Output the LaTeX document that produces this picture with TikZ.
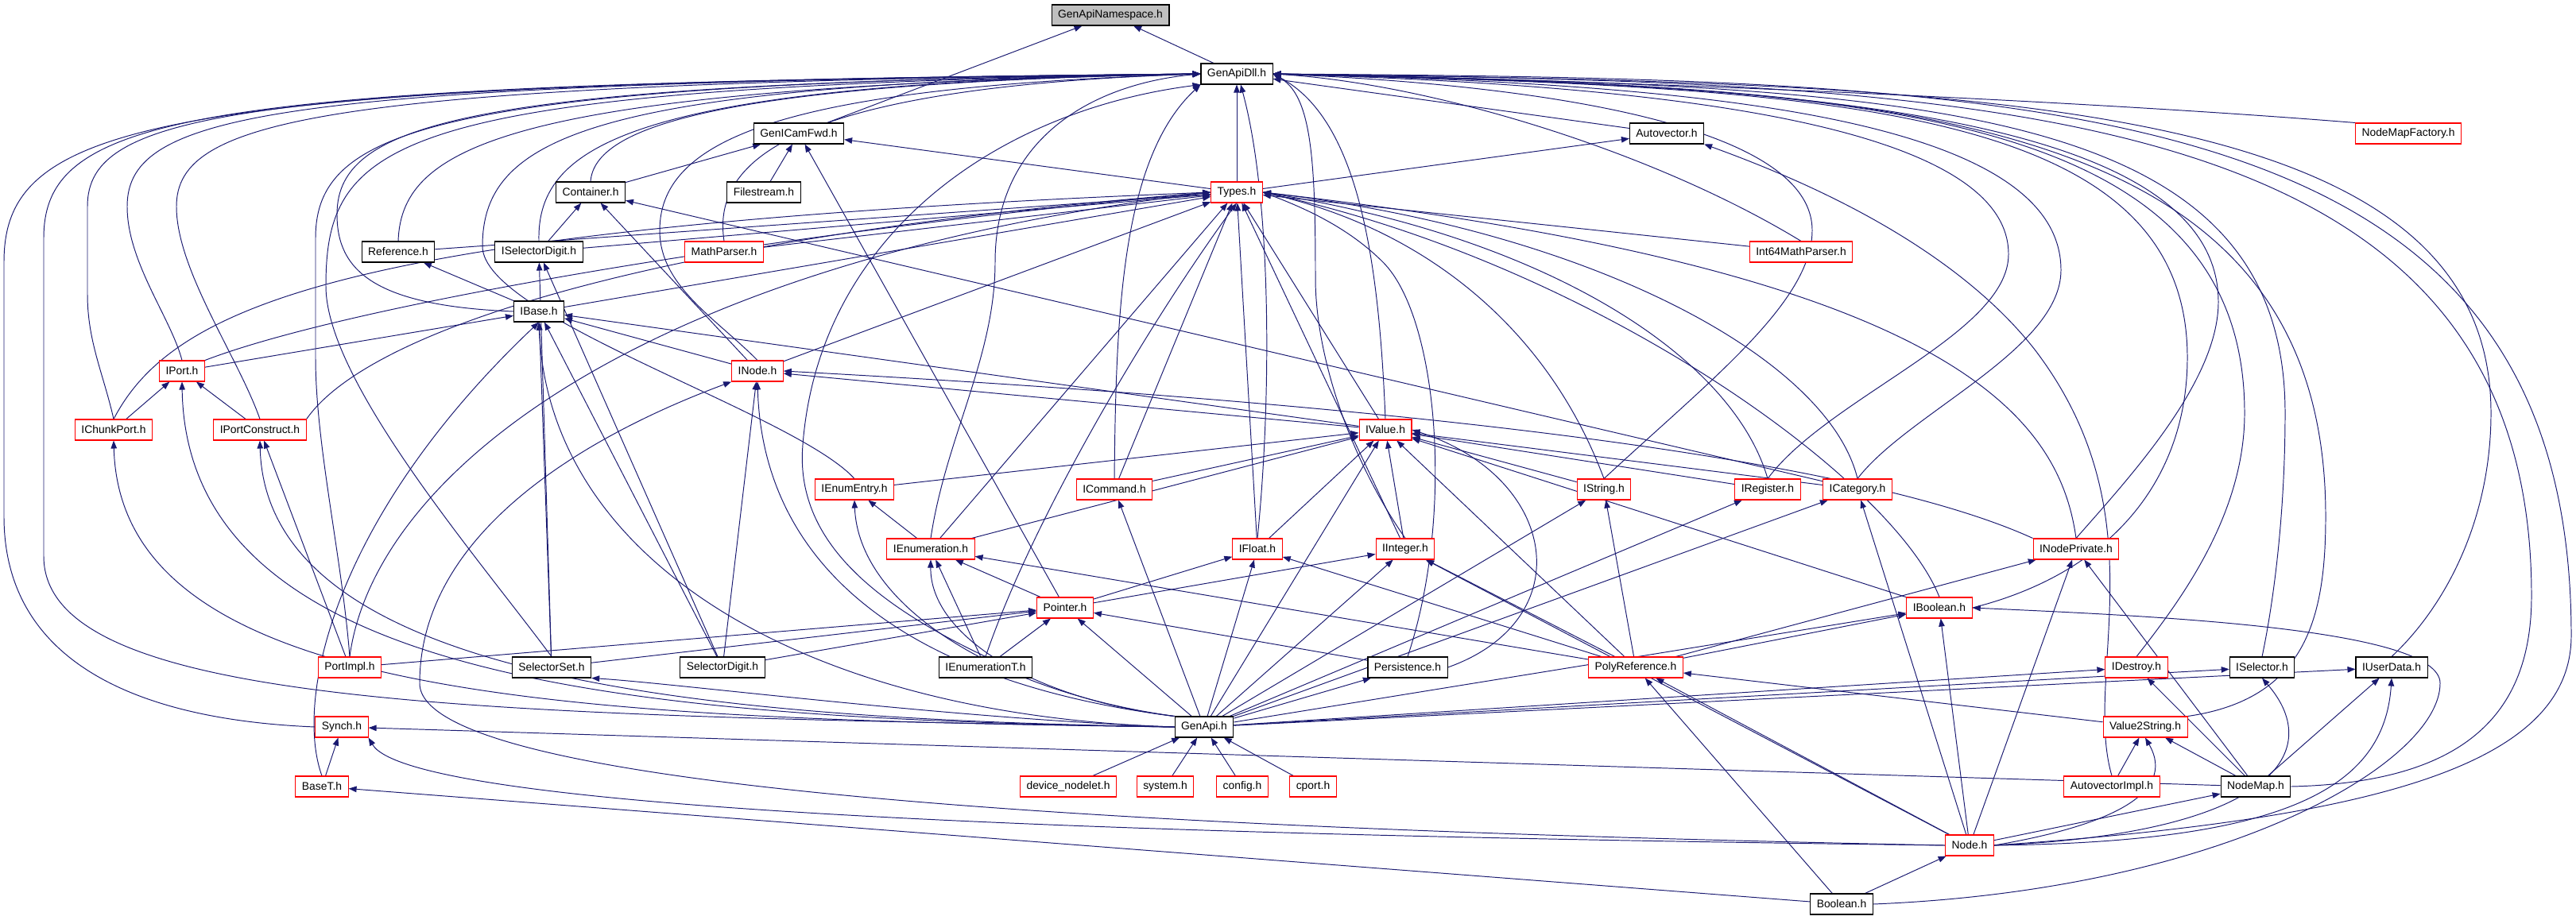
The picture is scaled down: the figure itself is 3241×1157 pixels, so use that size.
\documentclass[tikz,border=0pt]{standalone}
\usepackage{fontspec}
\setmainfont{Liberation Sans}
\usetikzlibrary{arrows.meta}
\definecolor{edgeblue}{RGB}{25,25,112}
\definecolor{nspgrey}{HTML}{BFBFBF}
\pgfdeclarelayer{background}
\pgfsetlayers{background,main}
\tikzset{file/.style = {draw, rectangle, line width = 0.6pt, fill = white, font = \fontsize{7.9}{9}\selectfont,
                        minimum height = 0.52cm, inner xsep = 0.16cm, inner ysep = 0}}
\tikzset{redfile/.style = {file, draw = red}}
\tikzset{inc/.style = {draw = edgeblue, line width = 0.55pt, -{Triangle[length = 0.2cm, width = 0.15cm]}}}

\begin{document}
\begin{tikzpicture}[x = 0.02cm, y = -0.02cm]
    \useasboundingbox (0,0) rectangle (3241,1157);
    \node[file, fill = nspgrey] (nsp) at (1397,19) {GenApiNamespace.h};
    \node[file] (dll) at (1556,93) {GenApiDll.h};
    \node[file] (fwd) at (1005,168) {GenICamFwd.h};
    \node[file] (autovec) at (2097,168) {Autovector.h};
    \node[redfile] (nmfact) at (3030,168) {NodeMapFactory.h};
    \node[file] (container) at (743,242) {Container.h};
    \node[file] (filestream) at (961,242) {Filestream.h};
    \node[redfile] (types) at (1556,242) {Types.h};
    \node[file] (reference) at (501,317) {Reference.h};
    \node[file] (iseldigit) at (678,317) {ISelectorDigit.h};
    \node[redfile] (mathparser) at (911,317) {MathParser.h};
    \node[redfile] (int64mp) at (2266,317) {Int64MathParser.h};
    \node[file] (ibase) at (678,392) {IBase.h};
    \node[redfile] (iport) at (229,467) {IPort.h};
    \node[redfile] (inode) at (953,467) {INode.h};
    \node[redfile] (ichunk) at (143,541) {IChunkPort.h};
    \node[redfile] (iportc) at (327,541) {IPortConstruct.h};
    \node[redfile] (ivalue) at (1743,541) {IValue.h};
    \node[redfile] (ienumentry) at (1075,616) {IEnumEntry.h};
    \node[redfile] (icommand) at (1402,616) {ICommand.h};
    \node[redfile] (istring) at (2018,616) {IString.h};
    \node[redfile] (iregister) at (2224,616) {IRegister.h};
    \node[redfile] (icategory) at (2337,616) {ICategory.h};
    \node[redfile] (ienum) at (1171,691) {IEnumeration.h};
    \node[redfile] (ifloat) at (1582,691) {IFloat.h};
    \node[redfile] (iinteger) at (1768,691) {IInteger.h};
    \node[redfile] (inodepriv) at (2612,691) {INodePrivate.h};
    \node[redfile] (pointer) at (1340,765) {Pointer.h};
    \node[redfile] (iboolean) at (2440,765) {IBoolean.h};
    \node[redfile] (portimpl) at (440,840) {PortImpl.h};
    \node[file] (selset) at (694,840) {SelectorSet.h};
    \node[file] (seldigit) at (909,840) {SelectorDigit.h};
    \node[file] (ienumt) at (1240,840) {IEnumerationT.h};
    \node[file] (persist) at (1771,840) {Persistence.h};
    \node[redfile] (polyref) at (2058,840) {PolyReference.h};
    \node[redfile] (idestroy) at (2688,840) {IDestroy.h};
    \node[file] (iselector) at (2846,840) {ISelector.h};
    \node[file] (iuserdata) at (3009,840) {IUserData.h};
    \node[file] (genapi) at (1515,915) {GenApi.h};
    \node[redfile] (synch) at (430,915) {Synch.h};
    \node[redfile] (v2s) at (2699,915) {Value2String.h};
    \node[redfile] (baset) at (405,990) {BaseT.h};
    \node[redfile] (devnode) at (1344,990) {device\_nodelet.h};
    \node[redfile] (system) at (1466,990) {system.h};
    \node[redfile] (config) at (1563,990) {config.h};
    \node[redfile] (cport) at (1652,990) {cport.h};
    \node[redfile] (avimpl) at (2657,990) {AutovectorImpl.h};
    \node[file] (nodemap) at (2838,990) {NodeMap.h};
    \node[redfile] (nodeh) at (2478,1064) {Node.h};
    \node[file] (boolean) at (2317,1138) {Boolean.h};

    \begin{pgfonlayer}{background}
    \draw[inc] (dll) -- (nsp);
    \draw[inc] (fwd) -- (nsp);
    \draw[inc] (autovec) -- (dll);
    \draw[inc] (nmfact.north west) .. controls (2600,125) and (2000,100) .. (dll.east);
    \draw[inc] (container.north) .. controls (748,160) and (900,105) .. (dll.west);
    \draw[inc] (container) -- (fwd);
    \draw[inc] (filestream) -- (fwd);
    \draw[inc] (types) -- (dll);
    \draw[inc] (types) -- (fwd);
    \draw[inc] (types) -- (autovec);
    \draw[inc] (reference.north) .. controls (505,180) and (650,110) .. (dll.west);
    \draw[inc] (reference) -- (types);
    \draw[inc] (iseldigit.north) .. controls (675,180) and (800,105) .. (dll.west);
    \draw[inc] (iseldigit) -- (container);
    \draw[inc] (iseldigit) -- (types);
    \draw[inc] (mathparser.north) .. controls (895,200) and (1000,110) .. (dll.west);
    \draw[inc] (mathparser) -- (types);
    \draw[inc] (int64mp.north) .. controls (2080,190) and (1800,105) .. (dll.east);
    \draw[inc] (int64mp) -- (types);
    \draw[inc] (ibase.west) .. controls (470,385) and (424,340) .. (424,270) .. controls (424,150) and (600,105) .. (dll.west);
    \draw[inc] (ibase) -- (reference);
    \draw[inc] (ibase) -- (types);
    \draw[inc] (iport.north) .. controls (215,400) and (160,330) .. (160,260) .. controls (160,140) and (350,105) .. (dll.west);
    \draw[inc] (iport.north east) .. controls (450,380) and (1000,290) .. (types.west);
    \draw[inc] (iport) -- (ibase);
    \draw[inc] (ichunk.north) .. controls (130,470) and (110,430) .. (110,370) -- (110,260) .. controls (110,140) and (300,105) .. (dll.west);
    \draw[inc] (ichunk.north) .. controls (220,380) and (450,285) .. (types.west);
    \draw[inc] (ichunk) -- (iport);
    \draw[inc] (iportc.north) .. controls (300,450) and (222,340) .. (222,260) .. controls (222,150) and (400,105) .. (dll.west);
    \draw[inc] (iportc.north east) .. controls (460,420) and (800,300) .. (types.west);
    \draw[inc] (iportc) -- (iport);
    \draw[inc] (inode.north) .. controls (900,400) and (830,360) .. (830,290) .. controls (830,170) and (1000,110) .. (dll.west);
    \draw[inc] (inode) -- (types);
    \draw[inc] (inode) -- (ibase);
    \draw[inc] (inode) -- (container);
    \draw[inc] (ivalue.north) .. controls (1735,330) and (1710,150) .. (dll.east);
    \draw[inc] (ivalue) -- (types);
    \draw[inc] (ivalue) -- (ibase);
    \draw[inc] (ivalue) -- (inode);
    \draw[inc] (ienumentry.north) .. controls (1000,520) and (607,400) .. (607,310) .. controls (607,170) and (750,105) .. (dll.west);
    \draw[inc] (ienumentry) -- (ivalue);
    \draw[inc] (icommand.north) .. controls (1404,400) and (1410,200) .. (dll.south west);
    \draw[inc] (icommand) -- (types);
    \draw[inc] (icommand) -- (ivalue);
    \draw[inc] (istring.north) .. controls (2150,480) and (2280,380) .. (2280,290) .. controls (2280,150) and (1900,105) .. (dll.east);
    \draw[inc] (istring.north) .. controls (1950,420) and (1800,290) .. (types.east);
    \draw[inc] (istring) -- (ivalue);
    \draw[inc] (iregister.north) .. controls (2300,500) and (2527,420) .. (2527,320) .. controls (2527,140) and (2000,105) .. (dll.east);
    \draw[inc] (iregister.north) .. controls (2180,450) and (1950,300) .. (types.east);
    \draw[inc] (iregister) -- (ivalue);
    \draw[inc] (icategory.north) .. controls (2400,520) and (2593,440) .. (2593,340) .. controls (2593,140) and (2100,105) .. (dll.east);
    \draw[inc] (icategory.north) .. controls (2300,450) and (2000,290) .. (types.east);
    \draw[inc] (icategory) -- (ivalue);
    \draw[inc] (icategory) -- (container);
    \draw[inc] (ienum.north) .. controls (1190,550) and (1252,450) .. (1252,330) .. controls (1252,170) and (1380,105) .. (dll.west);
    \draw[inc] (ienum) -- (types);
    \draw[inc] (ienum) -- (ivalue);
    \draw[inc] (ienum) -- (ienumentry);
    \draw[inc] (ifloat.north) .. controls (1600,500) and (1600,250) .. (dll.290);
    \draw[inc] (ifloat) -- (types);
    \draw[inc] (ifloat) -- (ivalue);
    \draw[inc] (iinteger.north) .. controls (1700,580) and (1655,450) .. (1655,350) .. controls (1655,200) and (1650,120) .. (dll.east);
    \draw[inc] (iinteger) -- (types);
    \draw[inc] (iinteger) -- (ivalue);
    \draw[inc] (inodepriv.north) .. controls (2680,600) and (2791,480) .. (2791,380) .. controls (2791,130) and (2200,105) .. (dll.east);
    \draw[inc] (inodepriv.north) .. controls (2590,520) and (2450,340) .. (types.east);
    \draw[inc] (inodepriv.north west) .. controls (2300,560) and (1600,500) .. (inode.east);
    \draw[inc] (iboolean.east) .. controls (2660,720) and (2752,600) .. (2752,450) .. controls (2752,130) and (2300,110) .. (dll.east);
    \draw[inc] (iboolean.north) .. controls (2380,600) and (2000,330) .. (types.east);
    \draw[inc] (iboolean) -- (ivalue);
    \draw[inc] (pointer) -- (fwd);
    \draw[inc] (pointer) -- (ienum);
    \draw[inc] (pointer) -- (ifloat);
    \draw[inc] (pointer) -- (iinteger);
    \draw[inc] (portimpl.north) .. controls (430,700) and (397,560) .. (397,450) -- (397,300) .. controls (397,160) and (550,105) .. (dll.west);
    \draw[inc] (portimpl.north) .. controls (470,600) and (800,330) .. (types.west);
    \draw[inc] (portimpl) -- (iportc);
    \draw[inc] (portimpl) -- (pointer);
    \draw[inc] (selset.north) .. controls (600,700) and (410,480) .. (410,360) .. controls (410,170) and (500,110) .. (dll.west);
    \draw[inc] (selset) -- (iseldigit);
    \draw[inc] (selset) -- (ibase);
    \draw[inc] (selset) -- (pointer);
    \draw[inc] (seldigit) -- (iseldigit);
    \draw[inc] (seldigit) -- (inode);
    \draw[inc] (seldigit) -- (ibase);
    \draw[inc] (seldigit) -- (pointer);
    \draw[inc] (ienumt.north) .. controls (1100,760) and (1000,680) .. (1010,560) .. controls (1030,300) and (1250,140) .. (dll.south west);
    \draw[inc] (ienumt.north) .. controls (1300,650) and (1450,400) .. (types.south);
    \draw[inc] (ienumt) -- (ienum);
    \draw[inc] (ienumt) -- (pointer);
    \draw[inc] (persist.north) .. controls (1830,650) and (1810,400) .. (1740,330) .. controls (1700,290) and (1650,265) .. (types.east);
    \draw[inc] (persist) -- (pointer);
    \draw[inc] (persist.east) .. controls (1990,780) and (1960,600) .. (ivalue.east);
    \draw[inc] (polyref) -- (ienum);
    \draw[inc] (polyref) -- (ifloat);
    \draw[inc] (polyref) -- (iinteger);
    \draw[inc] (polyref) -- (istring);
    \draw[inc] (polyref) -- (ivalue);
    \draw[inc] (polyref) -- (inodepriv);
    \draw[inc] (polyref) -- (iboolean);
    \draw[inc] (idestroy.north) .. controls (2740,760) and (2824,650) .. (2824,520) .. controls (2824,120) and (2300,110) .. (dll.east);
    \draw[inc] (iselector.north) .. controls (2860,760) and (2875,650) .. (2875,520) .. controls (2875,120) and (2400,110) .. (dll.east);
    \draw[inc] (iuserdata.north) .. controls (3080,760) and (3134,650) .. (3134,520) .. controls (3134,120) and (2500,105) .. (dll.east);
    \draw[inc] (v2s.north east) .. controls (2900,880) and (2926,780) .. (2926,650) .. controls (2926,120) and (2350,110) .. (dll.east);
    \draw[inc] (nodemap.east) .. controls (3100,985) and (3185,900) .. (3185,750) .. controls (3185,120) and (2500,105) .. (dll.east);
    \draw[inc] (nodeh.east) .. controls (3000,1030) and (3235,960) .. (3235,800) .. controls (3235,120) and (2600,100) .. (dll.east);
    \draw[inc] (genapi.west) .. controls (600,900) and (55,890) .. (55,700) -- (55,300) .. controls (55,140) and (250,105) .. (dll.west);
    \draw[inc] (synch.west) .. controls (150,905) and (5,820) .. (5,650) -- (5,330) .. controls (5,150) and (200,105) .. (dll.west);
    \draw[inc] (genapi.west) .. controls (700,905) and (152,880) .. (ichunk.south);
    \draw[inc] (genapi.west) .. controls (800,905) and (235,860) .. (iport.south);
    \draw[inc] (genapi.west) .. controls (900,905) and (335,860) .. (iportc.south);
    \draw[inc] (genapi.west) .. controls (1000,900) and (690,700) .. (ibase.south);
    \draw[inc] (genapi.north west) .. controls (1150,860) and (960,720) .. (inode.south);
    \draw[inc] (genapi.north west) .. controls (1250,870) and (1080,760) .. (ienumentry.south);
    \draw[inc] (genapi.north west) .. controls (1300,880) and (1170,800) .. (ienum.south);
    \draw[inc] (genapi) -- (icommand);
    \draw[inc] (genapi) -- (ifloat);
    \draw[inc] (genapi) -- (iinteger);
    \draw[inc] (genapi) -- (ivalue);
    \draw[inc] (genapi) -- (istring);
    \draw[inc] (genapi) -- (iregister);
    \draw[inc] (genapi) -- (icategory);
    \draw[inc] (genapi) -- (iboolean);
    \draw[inc] (genapi) -- (pointer);
    \draw[inc] (genapi) -- (persist);
    \draw[inc] (genapi.west) .. controls (1200,905) and (850,860) .. (selset.south east);
    \draw[inc] (genapi) -- (idestroy);
    \draw[inc] (genapi) -- (iselector);
    \draw[inc] (genapi) -- (iuserdata);
    \draw[inc] (v2s) -- (polyref);
    \draw[inc] (devnode) -- (genapi);
    \draw[inc] (system) -- (genapi);
    \draw[inc] (config) -- (genapi);
    \draw[inc] (cport) -- (genapi);
    \draw[inc] (baset) -- (synch);
    \draw[inc] (baset.north) .. controls (370,880) and (420,650) .. (ibase.south);
    \draw[inc] (avimpl) -- (v2s);
    \draw[inc] (avimpl.north) .. controls (2620,850) and (2720,650) .. (2560,440) .. controls (2450,300) and (2250,220) .. (autovec.south east);
    \draw[inc] (nodemap) -- (v2s);
    \draw[inc] (nodemap) -- (idestroy);
    \draw[inc] (nodemap) -- (iuserdata);
    \draw[inc] (nodemap) -- (synch);
    \draw[inc] (nodemap) -- (inodepriv);
    \draw[inc] (nodeh.west) .. controls (1500,1045) and (528,1000) .. (528,860) .. controls (528,660) and (760,540) .. (inode.south west);
    \draw[inc] (nodeh) -- (iboolean);
    \draw[inc] (nodeh) -- (icategory);
    \draw[inc] (nodeh) -- (polyref);
    \draw[inc] (nodeh) -- (inodepriv);
    \draw[inc] (nodeh.west) .. controls (1500,1052) and (520,1025) .. (synch.south east);
    \draw[inc] (nodeh) -- (nodemap);
    \draw[inc] (nodeh.east) .. controls (2650,1040) and (2740,1000) .. (v2s.south);
    \draw[inc] (nodeh.east) .. controls (2850,1050) and (2930,950) .. (iselector.south);
    \draw[inc] (nodeh.east) .. controls (2880,1060) and (3000,990) .. (iuserdata.south);
    \draw[inc] (nodeh) -- (iinteger);
    \draw[inc] (boolean) -- (baset);
    \draw[inc] (boolean.east) .. controls (2800,1120) and (3070,960) .. (3070,860) .. controls (3070,790) and (2700,775) .. (iboolean.east);
    \draw[inc] (boolean) -- (polyref);
    \draw[inc] (boolean) -- (nodeh);
    \end{pgfonlayer}
\end{tikzpicture}
\end{document}
